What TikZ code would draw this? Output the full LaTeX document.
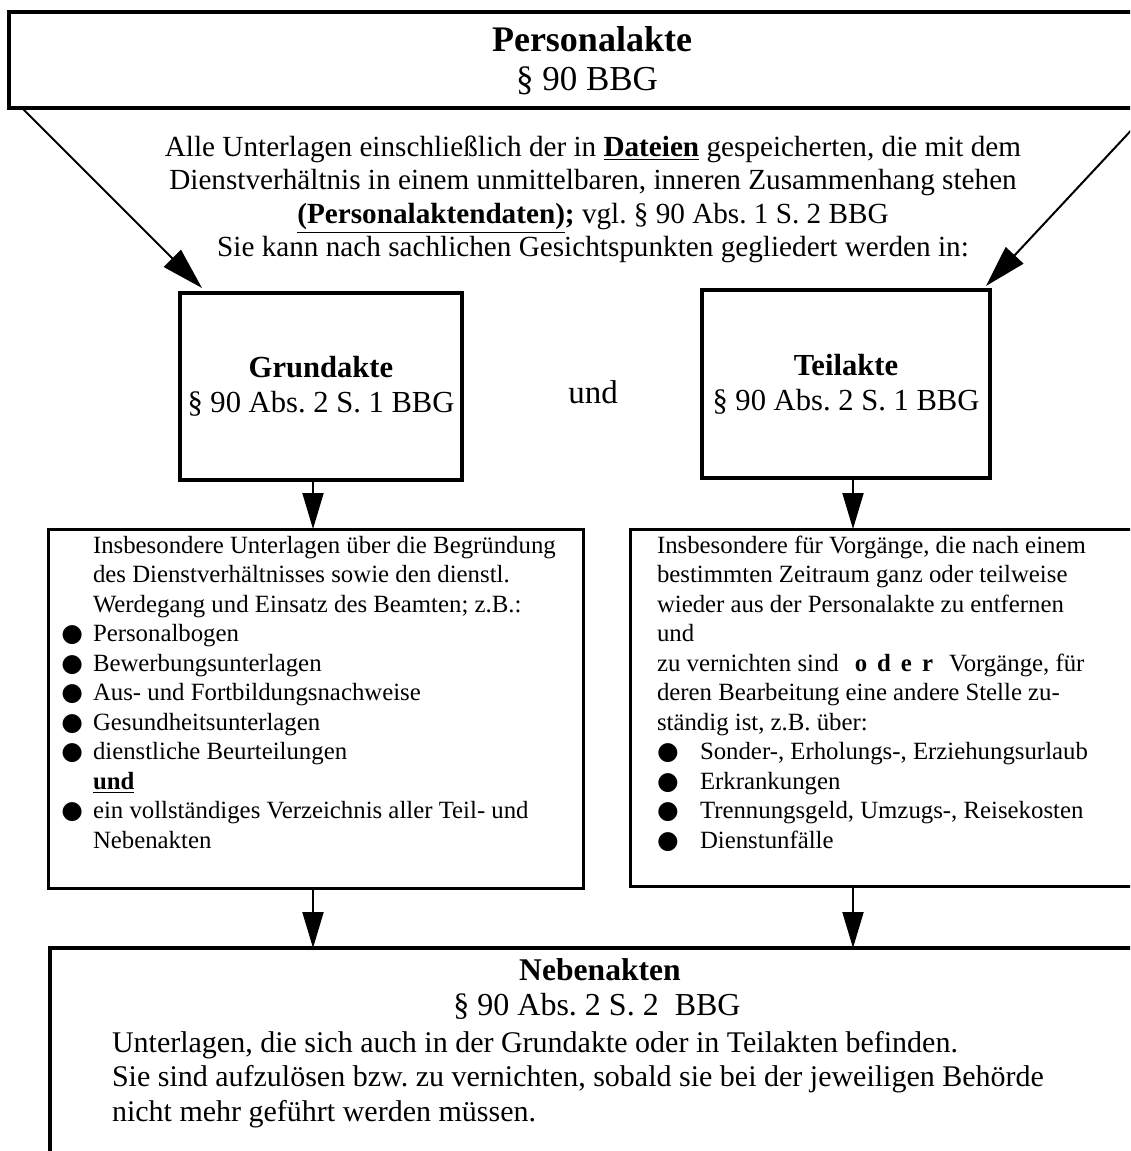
\documentclass[tikz,border=0pt]{standalone}
\usepackage{fontspec}
\setmainfont{Liberation Serif}
\newfontfamily\symfont{DejaVu Sans}
\usetikzlibrary{arrows.meta}
\frenchspacing
% hanging bullet for the left list, fixed-width bullet column for the right list
\newcommand\blt{\makebox[0pt][r]{{\symfont ●}\hspace{5pt}}}
\newcommand\rblt{\makebox[21.5pt][l]{{\symfont ●}}}
\begin{document}
\begin{tikzpicture}[x=0.5pt,y=-0.5pt,
  frame/.style={draw, line width=2pt, inner sep=0pt, outer sep=0pt},
  panel/.style={draw, line width=1.5pt, inner sep=0pt, outer sep=0pt},
  txt/.style={inner sep=0pt, outer sep=0pt},
  slant/.style={line width=1pt, -{Triangle[length=21pt,width=12pt]}},
  drop/.style={line width=1pt, -{Triangle[length=18pt,width=10.5pt]}}]
\useasboundingbox (0,0) rectangle (1130,1151);
\clip (0,0) rectangle (1130,1151);

% head box
\node[frame, minimum width=565.5pt, minimum height=48pt] (pa) at (574.5,60) {};
\node[txt, anchor=base, font=\fontsize{18}{20}\selectfont\bfseries] (patitle) at (592,51) {Personalakte};
\node[txt, anchor=base, font=\fontsize{17.5}{19}\selectfont] (palaw) at (587,90) {§ 90 BBG};

% definition text
\node[txt, anchor=north, align=center, font=\fontsize{14.6}{16.75}\selectfont] (intro) at (593,133)
  {\strut Alle Unterlagen einschließlich der in \underline{\textbf{Dateien}} gespeicherten, die mit dem\\
   Dienstverhältnis in einem unmittelbaren, inneren Zusammenhang stehen\\
   \textbf{\underline{(Personalaktendaten)};} vgl. § 90 Abs. 1 S. 2 BBG\\
   Sie kann nach sachlichen Gesichtspunkten gegliedert werden in:};

% the two parts
\node[frame, minimum width=141pt, minimum height=93.5pt, align=center,
      font=\fontsize{15.3}{17.5}\selectfont] (ga) at (321,386.5)
  {\textbf{Grundakte}\\§ 90 Abs. 2 S. 1 BBG};
\node[frame, minimum width=144pt, minimum height=94pt, align=center,
      font=\fontsize{15.3}{17.5}\selectfont] (ta) at (846,384)
  {\textbf{Teilakte}\\§ 90 Abs. 2 S. 1 BBG};
\node[txt, anchor=base, font=\fontsize{16.5}{19}\selectfont] (und) at (593,403) {und};

% detail panels
\node[panel, minimum width=267.5pt, minimum height=179.5pt] (gd) at (315.5,708.5) {};
\node[panel, minimum width=255pt, minimum height=178.5pt] (td) at (885,707.5) {};

\node[txt, anchor=north west, align=left, font=\fontsize{12.4}{14.75}\selectfont] (gdtext) at (93,532.35)
  {\strut Insbesondere Unterlagen über die Begründung\\
   des Dienstverhältnisses sowie den dienstl.\\
   Werdegang und Einsatz des Beamten; z.B.:\\
   \blt Personalbogen\\
   \blt Bewerbungsunterlagen\\
   \blt Aus- und Fortbildungsnachweise\\
   \blt Gesundheitsunterlagen\\
   \blt dienstliche Beurteilungen\\
   \underline{\textbf{und}}\\
   \blt ein vollständiges Verzeichnis aller Teil- und\\
   Nebenakten};

\node[txt, anchor=north west, align=left, font=\fontsize{12.4}{14.75}\selectfont] (tdtext) at (657,532.35)
  {\strut Insbesondere für Vorgänge, die nach einem\\
   bestimmten Zeitraum ganz oder teilweise\\
   wieder aus der Personalakte zu entfernen\\
   und\\
   zu vernichten sind\hspace{8pt}\textbf{o\hspace{5pt}d\hspace{5pt}e\hspace{5pt}r}\hspace{8pt}Vorgänge, für\\
   deren Bearbeitung eine andere Stelle zu-\\
   ständig ist, z.B. über:\\
   \rblt Sonder-, Erholungs-, Erziehungsurlaub\\
   \rblt Erkrankungen\\
   \rblt Trennungsgeld, Umzugs-, Reisekosten\\
   \rblt Dienstunfälle};

% secondary files
\node[draw, line width=1.75pt, inner sep=0pt, outer sep=0pt,
      minimum width=545pt, minimum height=111pt] (nb) at (595,1059) {};
\node[txt, anchor=base, font=\fontsize{15.8}{18}\selectfont\bfseries] (nbtitle) at (600,980) {Nebenakten};
\node[txt, anchor=base, font=\fontsize{16}{19}\selectfont] (nblaw) at (597,1015) {§ 90 Abs. 2 S. 2\ \ BBG};
\node[txt, anchor=north west, align=left, font=\fontsize{15}{17.25}\selectfont] (nbtext) at (112,1028)
  {\strut Unterlagen, die sich auch in der Grundakte oder in Teilakten befinden.\\
   Sie sind aufzulösen bzw. zu vernichten, sobald sie bei der jeweiligen Behörde\\
   nicht mehr geführt werden müssen.};

% connectors
\coordinate (c1) at (313,0);
\coordinate (c2) at (853,0);
\draw[slant] ([xshift=6.5pt]pa.south west) -- ([xshift=11pt,yshift=2.5pt]ga.north west);
\draw[slant] ([xshift=6pt]pa.south east) -- ([xshift=-2pt,yshift=2pt]ta.north east);
\draw[drop] (ga.south -| c1) -- (gd.north -| c1);
\draw[drop] (ta.south -| c2) -- (td.north -| c2);
\draw[drop] (gd.south -| c1) -- (nb.north -| c1);
\draw[drop] (td.south -| c2) -- (nb.north -| c2);
\end{tikzpicture}
\end{document}
